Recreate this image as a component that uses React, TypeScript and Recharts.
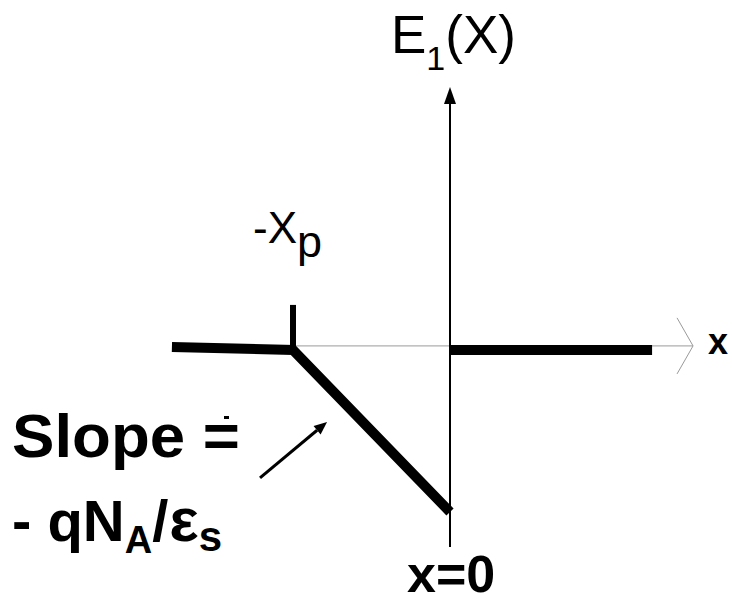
import { LineChart, Line, XAxis, YAxis, ReferenceLine } from 'recharts'

// field profile E1(x) across the depletion region, x in units of xp, E in units of |E(0)|
const xs = [-1.771, -1, 0, 0, 0, 1.287]
const fieldValues: (number | null)[] = [0.019, 0, -1, null, 0, 0]

const X_DOMAIN: [number, number] = [-2.866, 1.796]
const E_DOMAIN: [number, number] = [-1.568, 2.16]

// axis extents and annotation endpoints (data units)
const xAxisSpan = [-1, 1.548]
const xAxisLevel = 0.025
const arrowWing = { x: 1.446, up: 0.198, down: -0.148 }
const eAxisSpan = [-1.216, 1.623]
const xpTickTop = 0.278
const slopeArrow = { from: [-1.21, -0.79], to: [-0.783, -0.444] }

const data = xs.map((x, i) => ({ x, e: fieldValues[i] }))

type LineShapeProps = { x1?: number; y1?: number; x2?: number; y2?: number }

// line with a filled head at its second end
function arrowShape(width: number, headLen: number, headHalf: number) {
  return (p: LineShapeProps) => {
    const x1 = Number(p.x1), y1 = Number(p.y1), x2 = Number(p.x2), y2 = Number(p.y2)
    const len = Math.hypot(x2 - x1, y2 - y1) || 1
    const ux = (x2 - x1) / len, uy = (y2 - y1) / len
    const bx = x2 - ux * headLen, by = y2 - uy * headLen
    const head = `M${x2},${y2} L${bx - uy * headHalf},${by + ux * headHalf} L${bx + uy * headHalf},${by - ux * headHalf} Z`
    return (
      <g>
        <line x1={x1} y1={y1} x2={bx} y2={by} stroke="#000" strokeWidth={width} />
        <path d={head} fill="#000" />
      </g>
    )
  }
}

const font = '"Liberation Sans", Arial, sans-serif'

export default function App() {
  return (
    <div style={{ position: 'absolute', left: 0, top: 0, width: 732, height: 604, background: '#fff' }}>
      <LineChart width={732} height={604} data={data} margin={{ top: 0, right: 0, bottom: 0, left: 0 }}>
        <XAxis dataKey="x" type="number" domain={X_DOMAIN} hide allowDataOverflow />
        <YAxis type="number" domain={E_DOMAIN} hide allowDataOverflow />

        {/* x axis, thin grey with an open arrowhead */}
        <ReferenceLine
          segment={[{ x: xAxisSpan[0], y: xAxisLevel }, { x: xAxisSpan[1], y: xAxisLevel }]}
          stroke="#9a9a9a"
          strokeWidth={1}
        />
        <ReferenceLine
          segment={[{ x: arrowWing.x, y: arrowWing.up }, { x: xAxisSpan[1], y: xAxisLevel }]}
          stroke="#9a9a9a"
          strokeWidth={1}
        />
        <ReferenceLine
          segment={[{ x: arrowWing.x, y: arrowWing.down }, { x: xAxisSpan[1], y: xAxisLevel }]}
          stroke="#9a9a9a"
          strokeWidth={1}
        />

        {/* E axis at x = 0 */}
        <ReferenceLine
          segment={[{ x: 0, y: eAxisSpan[0] }, { x: 0, y: eAxisSpan[1] }]}
          shape={arrowShape(2, 17, 6)}
        />

        {/* tick marking -xp */}
        <ReferenceLine
          segment={[{ x: -1, y: 0 }, { x: -1, y: xpTickTop }]}
          stroke="#000"
          strokeWidth={6}
        />

        <Line
          dataKey="e"
          type="linear"
          stroke="#000"
          strokeWidth={10}
          strokeLinejoin="miter"
          dot={false}
          activeDot={false}
          connectNulls={false}
          isAnimationActive={false}
        />

        {/* pointer from the slope note to the ramp */}
        <ReferenceLine
          segment={[
            { x: slopeArrow.from[0], y: slopeArrow.from[1] },
            { x: slopeArrow.to[0], y: slopeArrow.to[1] },
          ]}
          shape={arrowShape(3, 13, 5.5)}
        />
      </LineChart>

      <svg width={732} height={604} style={{ position: 'absolute', left: 0, top: 0, pointerEvents: 'none' }}>
        <text x={391} y={53} fontFamily={font} fontSize={53} fill="#000">
          E<tspan fontSize={34} dy={17}>1</tspan>
          <tspan dy={-17}>(X)</tspan>
        </text>
        <text x={253} y={243} fontFamily={font} fontSize={44} fill="#000">
          -X<tspan fontSize={45} dy={14}>p</tspan>
        </text>
        <text x={708} y={354} fontFamily={font} fontWeight="bold" fontSize={36} fill="#000">
          x
        </text>
        <text x={407} y={592} fontFamily={font} fontWeight="bold" fontSize={52} fill="#000">
          x=0
        </text>
        <text
          x={12}
          y={457}
          fontFamily={font}
          fontWeight="bold"
          fontSize={62}
          fill="#000"
          textLength={228}
          lengthAdjust="spacingAndGlyphs"
        >
          Slope =
        </text>
        {/* small dot over the equals sign */}
        <rect x={224} y={416} width={5} height={3} fill="#000" />
        <text x={12} y={541} fontFamily={font} fontWeight="bold" fontSize={58} fill="#000">
          - qN<tspan fontSize={38} dy={12}>A</tspan>
          <tspan dy={-12}>/</tspan>
          <tspan fontSize={62} dx={1} style={{ fontWeight: 600 }}>ε</tspan>
          <tspan fontSize={42} dy={10}>s</tspan>
        </text>
      </svg>
    </div>
  )
}
